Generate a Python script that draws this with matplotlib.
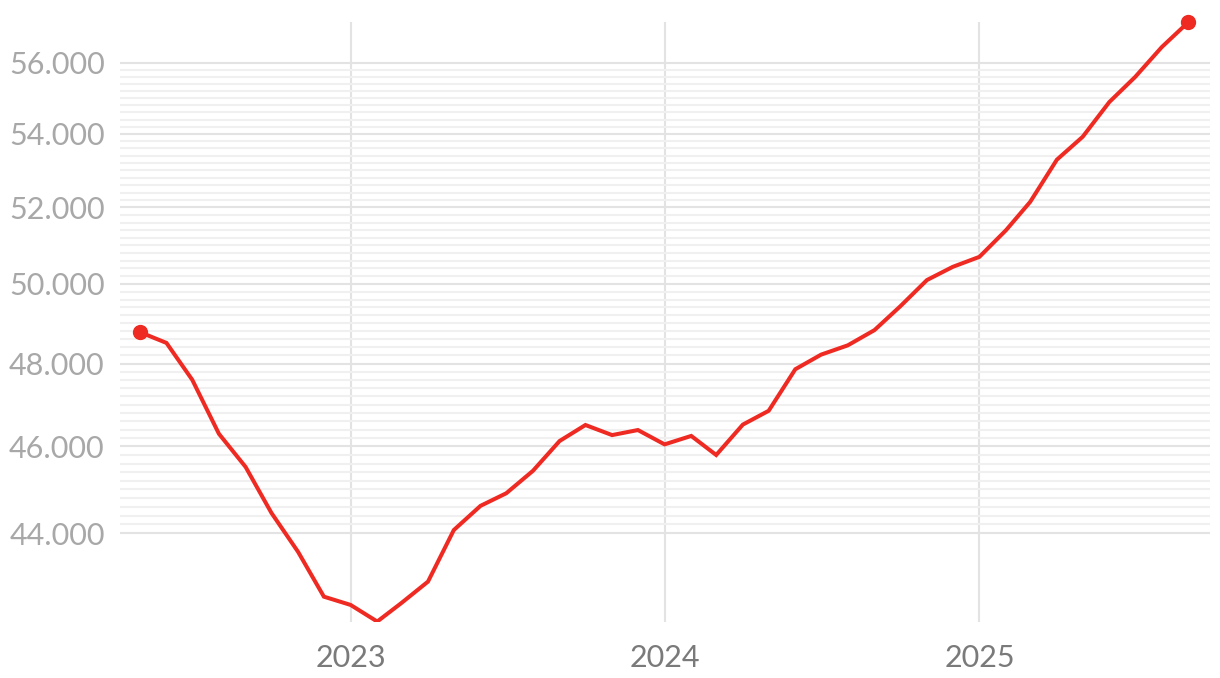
#!/usr/bin/env python3
"""Monthly index line, May 2022 - Sep 2025, log y-axis."""

import numpy as np
import pandas as pd
import matplotlib
matplotlib.use('Agg')
import matplotlib.pyplot as plt
import matplotlib.dates as mdates
from matplotlib.ticker import FixedLocator, FuncFormatter, NullFormatter

redcol   = '#ee2a22'
majorcol = '#e3e3e3'
minorcol = '#f0f0f0'
ylabcol  = '#a8a8a8'
xlabcol  = '#7a7a7a'

plt.rcParams['font.family'] = ['Lato', 'DejaVu Sans']

dates = pd.date_range('2022-05-01', '2025-09-01', freq='MS')
values = [
    48780, 48510, 47600, 46300, 45520, 44460, 43580, 42590,   # May-Dec 2022
    42410, 42050, 42450, 42920, 44070, 44620, 44910, 45430,   # Jan-Aug 2023
    46130, 46510, 46270, 46390,                               # Sep-Dec 2023
    46050, 46250, 45800, 46520, 46850, 47860, 48220, 48450,   # Jan-Aug 2024
    48830, 49430, 50100, 50440,                               # Sep-Dec 2024
    50700, 51400, 52150, 53290, 53920, 54890, 55600, 56460,   # Jan-Aug 2025
    57190,                                                    # Sep 2025
]
major_y = [44000, 46000, 48000, 50000, 52000, 54000, 56000]
minor_y = [v for v in range(44000, 56001, 200) if v not in major_y]
year_ticks = pd.to_datetime(['2023-01-01', '2024-01-01', '2025-01-01'])

fig = plt.figure(figsize=(12.2, 6.78), dpi=100)
ax = fig.add_axes([120 / 1220, 1 - 622 / 678, 1090 / 1220, 600 / 678])

ax.plot(dates, values, color=redcol, lw=2.9, solid_joinstyle='miter', zorder=3)
ax.plot([dates[0], dates[-1]], [values[0], values[-1]], 'o', color=redcol,
        ms=10, clip_on=False, zorder=4)

ax.set_yscale('log')
ax.set_ylim(min(values) - 10, max(values))
ax.set_xlim(pd.Timestamp('2022-04-08'), pd.Timestamp('2025-09-26'))

ax.yaxis.set_major_locator(FixedLocator(major_y))
ax.yaxis.set_minor_locator(FixedLocator(minor_y))
ax.yaxis.set_major_formatter(FuncFormatter(lambda v, p: f'{v:,.0f}'.replace(',', '.')))
ax.yaxis.set_minor_formatter(NullFormatter())
ax.xaxis.set_major_locator(FixedLocator(mdates.date2num(year_ticks)))
ax.xaxis.set_major_formatter(FuncFormatter(lambda v, p: mdates.num2date(v).strftime('%Y')))

ax.grid(True, which='major', axis='both', color=majorcol, lw=1.5)
ax.grid(True, which='minor', axis='y', color=minorcol, lw=1.5)
ax.set_axisbelow(True)

for s in ax.spines.values():
    s.set_visible(False)
ax.tick_params(axis='both', which='both', length=0)
ax.tick_params(axis='y', labelsize=22, labelcolor=ylabcol, pad=11)
ax.tick_params(axis='x', labelsize=22, labelcolor=xlabcol, pad=16)

fig.savefig('out.png', dpi=100, facecolor='white')
